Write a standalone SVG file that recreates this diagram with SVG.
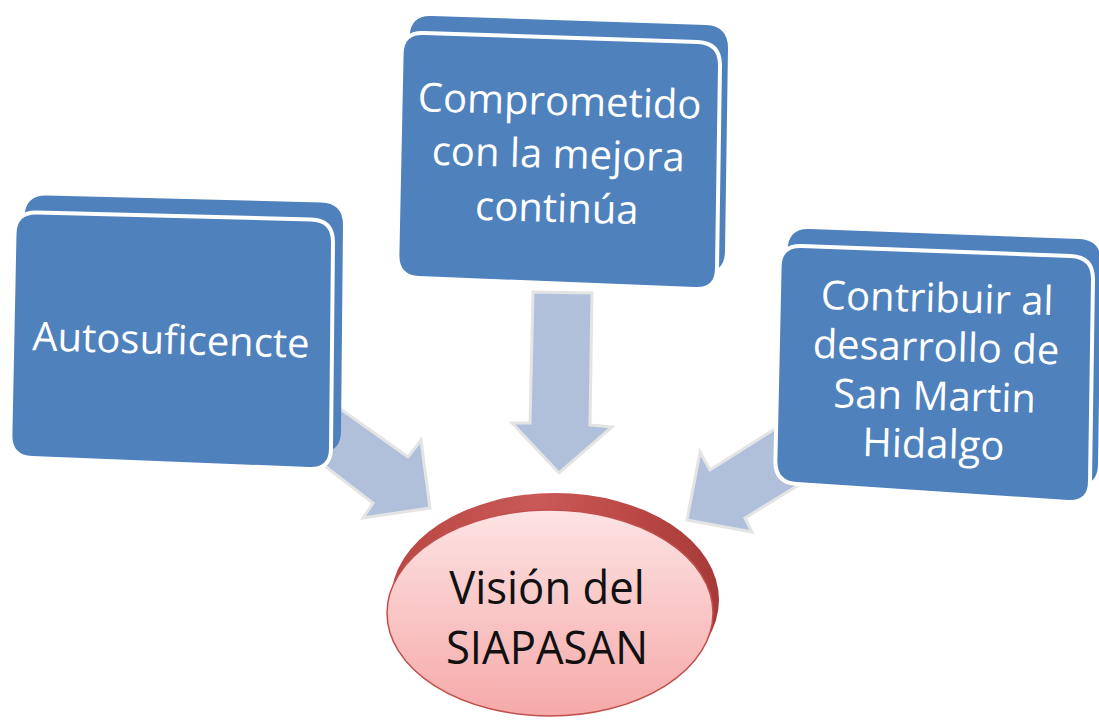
<svg xmlns="http://www.w3.org/2000/svg" width="1099" height="727" viewBox="0 0 1099 727">
  <defs>
    <linearGradient id="faceGrad" x1="0" y1="0" x2="0" y2="1">
      <stop offset="0" stop-color="#fde3e3"/>
      <stop offset="1" stop-color="#f6a9a9"/>
    </linearGradient>
    <linearGradient id="rimGrad" x1="0" y1="0" x2="1" y2="0">
      <stop offset="0" stop-color="#b94643"/>
      <stop offset="0.45" stop-color="#c95a57"/>
      <stop offset="0.7" stop-color="#bd4a47"/>
      <stop offset="1" stop-color="#a63a38"/>
    </linearGradient>
    <path id="cardL" d="M37,212.5 L311,219.5 Q333,220 333,242 L331,448 Q331,470 309,469 L32,458 Q10,457 10.4,435 L14.5,234 Q15,212 37,212.5 Z"/>
    <path id="cardM" d="M424,33 L698,42 Q720,43 720,65 L717,268 Q717,290 695,289 L419,278 Q397,277 397.4,255 L401.6,54 Q402,32 424,33 Z"/>
    <path id="cardR" d="M802,246 L1071,256 Q1093,257 1093,279 L1090,481 Q1090,503 1068,502 L797,484 Q775,483 775.4,461 L779.6,267 Q780,245 802,246 Z"/>
  </defs>
  <style>
    .back { fill: #4f81bd; }
    .front { fill: #4f81bd; stroke: #ffffff; stroke-width: 4; }
    .arrow { fill: #b1c0da; stroke: #e4e4e4; stroke-width: 3; stroke-linejoin: miter; }
    .boxtext { font-family: "Open Sans", "DejaVu Sans", sans-serif; font-size: 40px; fill: #ffffff; text-anchor: middle; }
    .ovaltext { font-family: "Open Sans", "DejaVu Sans", sans-serif; font-size: 46px; fill: #111111; text-anchor: middle; }
  </style>
  <rect width="1099" height="727" fill="#ffffff"/>

  <g id="connectors">
    <polygon class="arrow" points="318,393 408,457 421,440 430,508 363,518 373,503 300,447"/>
    <polygon class="arrow" points="533,292 592,293 590,425 612,427 559,473 512,423 530,423"/>
    <polygon class="arrow" points="800,413 710,470 700,452 687,520 752,532 745,518 810,478"/>
  </g>

  <g id="node-autosuficencte">
    <use href="#cardL" class="back" transform="translate(10,-17)"/>
    <use href="#cardL" class="front"/>
    <text class="boxtext" x="171" y="354" transform="rotate(1.5 171 340)">Autosuficencte</text>
  </g>

  <g id="node-comprometido">
    <use href="#cardM" class="back" transform="translate(8,-17)"/>
    <use href="#cardM" class="front"/>
    <g transform="rotate(1.5 558 165)">
      <text class="boxtext" x="558" y="115">Comprometido</text>
      <text class="boxtext" x="558" y="168">con la mejora</text>
      <text class="boxtext" x="558" y="222">continúa</text>
    </g>
  </g>

  <g id="node-contribuir">
    <use href="#cardR" class="back" transform="translate(8,-17)"/>
    <use href="#cardR" class="front"/>
    <g transform="rotate(1.5 935 385)">
      <text class="boxtext" x="935" y="312">Contribuir al</text>
      <text class="boxtext" x="935" y="361">desarrollo de</text>
      <text class="boxtext" x="935" y="410">San Martin</text>
      <text class="boxtext" x="935" y="458">Hidalgo</text>
    </g>
  </g>

  <g id="node-vision">
    <ellipse cx="555" cy="600" rx="164" ry="107" fill="url(#rimGrad)"/>
    <ellipse cx="550" cy="613" rx="163" ry="103" fill="url(#faceGrad)" stroke="#c0504d" stroke-width="1.5"/>
    <g transform="translate(547,0) scale(0.95,1)">
      <text class="ovaltext" x="0" y="604">Visión del</text>
      <text class="ovaltext" x="0" y="664">SIAPASAN</text>
    </g>
  </g>
</svg>
